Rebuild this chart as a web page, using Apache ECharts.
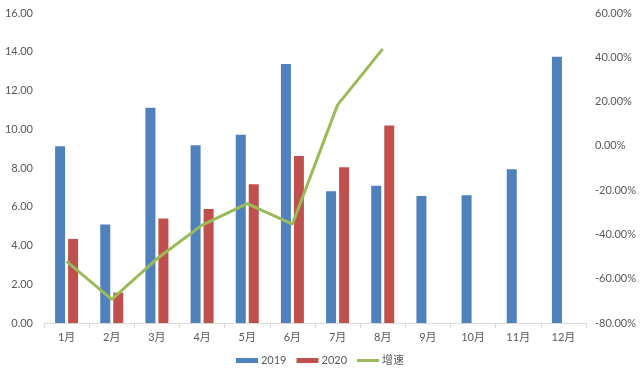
<!DOCTYPE html>
<html>
<head>
<meta charset="utf-8">
<script src="https://cdn.jsdelivr.net/npm/echarts@6/dist/echarts.min.js"></script>
<style>html,body{margin:0;padding:0;background:#fff}#c{width:640px;height:379px}</style>
</head>
<body>
<div id="c"></div>
<script>
const categories = ['1月','2月','3月','4月','5月','6月','7月','8月','9月','10月','11月','12月'];
const values2019 = [9.12, 5.09, 11.11, 9.17, 9.72, 13.37, 6.80, 7.09, 6.55, 6.59, 7.93, 13.74];
const values2020 = [4.34, 1.57, 5.40, 5.88, 7.16, 8.62, 8.04, 10.20];
const growth = [-52.2, -69.3, -51.0, -35.8, -26.1, -35.3, 18.5, 43.8];
const seriesNames = ['2019', '2020', '增速'];

const txt = '#595959';
const font = 'Lato, "Noto Sans CJK SC", sans-serif';
const chart = echarts.init(document.getElementById('c'));
chart.setOption({
  animation: false,
  textStyle: { fontFamily: font },
  grid: { left: 44, right: 54, top: 13, bottom: 56, containLabel: false },
  legend: {
    bottom: 8, left: 'center',
    itemWidth: 22, itemHeight: 5, itemGap: 10,
    textStyle: { color: txt, fontSize: 11, fontFamily: font, padding: [0, 0, 0, -2] },
    data: [
      { name: seriesNames[0], icon: 'rect' },
      { name: seriesNames[1], icon: 'rect' },
      { name: seriesNames[2], icon: 'path://M0,1H22V4H0Z' }
    ]
  },
  xAxis: {
    type: 'category', data: categories,
    axisLine: { lineStyle: { color: '#d9d9d9' } },
    axisTick: { show: true, length: 5, lineStyle: { color: '#d9d9d9' } },
    axisLabel: { color: txt, fontSize: 11, margin: 9 }
  },
  yAxis: [
    {
      type: 'value', min: 0, max: 16, interval: 2,
      splitLine: { show: false }, axisLine: { show: false }, axisTick: { show: false },
      axisLabel: { color: txt, fontSize: 11, margin: 11, formatter: v => v.toFixed(2) }
    },
    {
      type: 'value', min: -80, max: 60, interval: 20,
      splitLine: { show: false }, axisLine: { show: false }, axisTick: { show: false },
      axisLabel: { color: txt, fontSize: 11, margin: 9, formatter: v => v.toFixed(2) + '%' }
    }
  ],
  series: [
    { name: seriesNames[0], type: 'bar', data: values2019, barWidth: 10, barGap: '30%', itemStyle: { color: '#4f81bd' } },
    { name: seriesNames[1], type: 'bar', data: values2020, barWidth: 10, itemStyle: { color: '#c0504d' } },
    { name: seriesNames[2], type: 'line', yAxisIndex: 1, data: growth, symbol: 'none', lineStyle: { color: '#9bbb59', width: 3 }, itemStyle: { color: '#9bbb59' } }
  ]
});
</script>
</body>
</html>
